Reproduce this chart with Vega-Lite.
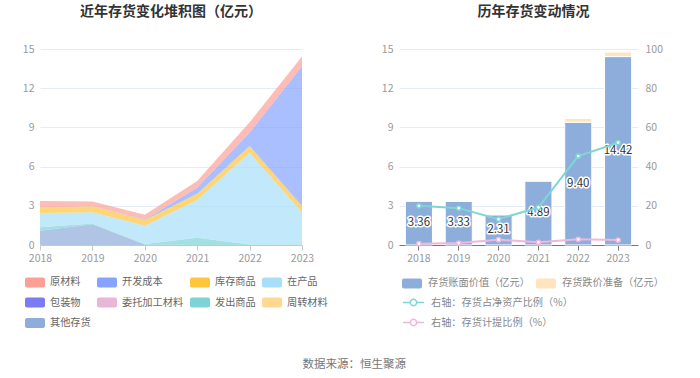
{
  "$schema": "https://vega.github.io/schema/vega-lite/v6.json",
  "background": "white",
  "padding": {"left": 22, "top": 5, "right": 5, "bottom": 6},
  "config": {
    "font": "Noto Sans CJK SC",
    "view": {"stroke": null},
    "axis": {"labelFont": "Noto Sans CJK SC", "labelFontSize": 10.5, "labelColor": "#9a9a9a", "gridColor": "#E6ECF6", "domainColor": "#C8C8C8", "tickColor": "#C8C8C8"},
    "legend": {"labelFont": "Noto Sans CJK SC", "labelFontSize": 10.2, "labelColor": "#666666", "padding": 0}
  },
  "title": {"text": "数据来源：恒生聚源", "orient": "bottom", "anchor": "middle", "fontSize": 11.5, "fontWeight": "normal", "color": "#777777", "dx": 11, "offset": 30},
  "bounds": "flush",
  "spacing": 97,
  "datasets": {
    "stack": [
      {"year": "2018", "cat": "其他存货", "value": 1.09, "seq": 1},
      {"year": "2018", "cat": "发出商品", "value": 0.26, "seq": 2},
      {"year": "2018", "cat": "在产品", "value": 1.09, "seq": 3},
      {"year": "2018", "cat": "库存商品", "value": 0.41, "seq": 4},
      {"year": "2018", "cat": "开发成本", "value": 0.0, "seq": 5},
      {"year": "2018", "cat": "原材料", "value": 0.51, "seq": 6},
      {"year": "2019", "cat": "其他存货", "value": 1.58, "seq": 1},
      {"year": "2019", "cat": "发出商品", "value": 0.07, "seq": 2},
      {"year": "2019", "cat": "在产品", "value": 0.85, "seq": 3},
      {"year": "2019", "cat": "库存商品", "value": 0.46, "seq": 4},
      {"year": "2019", "cat": "开发成本", "value": 0.0, "seq": 5},
      {"year": "2019", "cat": "原材料", "value": 0.37, "seq": 6},
      {"year": "2020", "cat": "其他存货", "value": 0.04, "seq": 1},
      {"year": "2020", "cat": "发出商品", "value": 0.03, "seq": 2},
      {"year": "2020", "cat": "在产品", "value": 1.4, "seq": 3},
      {"year": "2020", "cat": "库存商品", "value": 0.44, "seq": 4},
      {"year": "2020", "cat": "开发成本", "value": 0.05, "seq": 5},
      {"year": "2020", "cat": "原材料", "value": 0.35, "seq": 6},
      {"year": "2021", "cat": "其他存货", "value": 0.0, "seq": 1},
      {"year": "2021", "cat": "发出商品", "value": 0.56, "seq": 2},
      {"year": "2021", "cat": "在产品", "value": 2.88, "seq": 3},
      {"year": "2021", "cat": "库存商品", "value": 0.48, "seq": 4},
      {"year": "2021", "cat": "开发成本", "value": 0.46, "seq": 5},
      {"year": "2021", "cat": "原材料", "value": 0.51, "seq": 6},
      {"year": "2022", "cat": "其他存货", "value": 0.0, "seq": 1},
      {"year": "2022", "cat": "发出商品", "value": 0.04, "seq": 2},
      {"year": "2022", "cat": "在产品", "value": 7.02, "seq": 3},
      {"year": "2022", "cat": "库存商品", "value": 0.52, "seq": 4},
      {"year": "2022", "cat": "开发成本", "value": 1.03, "seq": 5},
      {"year": "2022", "cat": "原材料", "value": 0.79, "seq": 6},
      {"year": "2023", "cat": "其他存货", "value": 0.0, "seq": 1},
      {"year": "2023", "cat": "发出商品", "value": 0.04, "seq": 2},
      {"year": "2023", "cat": "在产品", "value": 2.44, "seq": 3},
      {"year": "2023", "cat": "库存商品", "value": 0.5, "seq": 4},
      {"year": "2023", "cat": "开发成本", "value": 10.7, "seq": 5},
      {"year": "2023", "cat": "原材料", "value": 0.74, "seq": 6}
    ],
    "bars": [
      {"year": "2018", "type": "存货账面价值（亿元）", "value": 3.36},
      {"year": "2018", "type": "存货跌价准备（亿元）", "value": 0.02},
      {"year": "2019", "type": "存货账面价值（亿元）", "value": 3.33},
      {"year": "2019", "type": "存货跌价准备（亿元）", "value": 0.03},
      {"year": "2020", "type": "存货账面价值（亿元）", "value": 2.31},
      {"year": "2020", "type": "存货跌价准备（亿元）", "value": 0.05},
      {"year": "2021", "type": "存货账面价值（亿元）", "value": 4.89},
      {"year": "2021", "type": "存货跌价准备（亿元）", "value": 0.07},
      {"year": "2022", "type": "存货账面价值（亿元）", "value": 9.4},
      {"year": "2022", "type": "存货跌价准备（亿元）", "value": 0.29},
      {"year": "2023", "type": "存货账面价值（亿元）", "value": 14.42},
      {"year": "2023", "type": "存货跌价准备（亿元）", "value": 0.35}
    ],
    "lines": [
      {"year": "2018", "metric": "右轴：存货占净资产比例（%）", "ratio": 20.0},
      {"year": "2019", "metric": "右轴：存货占净资产比例（%）", "ratio": 18.8},
      {"year": "2020", "metric": "右轴：存货占净资产比例（%）", "ratio": 13.2},
      {"year": "2021", "metric": "右轴：存货占净资产比例（%）", "ratio": 19.2},
      {"year": "2022", "metric": "右轴：存货占净资产比例（%）", "ratio": 45.4},
      {"year": "2023", "metric": "右轴：存货占净资产比例（%）", "ratio": 52.2},
      {"year": "2018", "metric": "右轴：存货计提比例（%）", "ratio": 0.7},
      {"year": "2019", "metric": "右轴：存货计提比例（%）", "ratio": 1.0},
      {"year": "2020", "metric": "右轴：存货计提比例（%）", "ratio": 2.7},
      {"year": "2021", "metric": "右轴：存货计提比例（%）", "ratio": 1.4},
      {"year": "2022", "metric": "右轴：存货计提比例（%）", "ratio": 2.9},
      {"year": "2023", "metric": "右轴：存货计提比例（%）", "ratio": 2.5}
    ]
  },
  "resolve": {
    "scale": {"x": "independent", "y": "independent", "color": "independent", "fill": "independent", "stroke": "independent"},
    "legend": {"color": "independent", "fill": "independent", "stroke": "independent"}
  },
  "hconcat": [
    {
      "width": 262,
      "height": 196,
      "title": {"text": "近年存货变化堆积图（亿元）", "fontSize": 14, "fontWeight": "bold", "color": "#333333", "offset": 25, "dx": 0, "anchor": "middle"},
      "data": {"name": "stack"},
      "mark": {"type": "area", "fillOpacity": 0.7, "interpolate": "linear"},
      "encoding": {
        "x": {"field": "year", "type": "ordinal", "scale": {"type": "point", "padding": 0},
              "axis": {"title": null, "labelAngle": 0, "ticks": true, "tickSize": 5, "labelPadding": 3}},
        "y": {"field": "value", "type": "quantitative", "stack": "zero", "scale": {"domain": [0, 15], "nice": false},
              "axis": {"title": null, "values": [0, 3, 6, 9, 12, 15], "domain": false, "ticks": false, "labelPadding": 6, "grid": true}},
        "color": {"field": "cat", "type": "nominal",
                  "scale": {"domain": ["原材料", "开发成本", "库存商品", "在产品", "包装物", "委托加工材料", "发出商品", "周转材料", "其他存货"],
                            "range": ["#FC9F95", "#86A4FF", "#FFC53D", "#A7DEFA", "#7B7BF3", "#E8B7D8", "#7ED3D6", "#FFD991", "#8EADDB"]},
                  "legend": {"title": null, "orient": "none", "direction": "horizontal", "legendX": -15, "legendY": 223, "columns": 4,
                             "symbolType": "M-0.8,-0.5H0.8A0.2,0.2,0,0,1,1,-0.3V0.3A0.2,0.2,0,0,1,0.8,0.5H-0.8A0.2,0.2,0,0,1,-1,0.3V-0.3A0.2,0.2,0,0,1,-0.8,-0.5Z",
                             "symbolSize": 400, "symbolStrokeWidth": 0, "symbolOpacity": 1, "labelOffset": 5, "columnPadding": 6, "rowPadding": 4.5}},
        "order": {"field": "seq", "type": "quantitative", "sort": "ascending"}
      }
    },
    {
      "width": 239,
      "height": 196,
      "title": {"text": "历年存货变动情况", "fontSize": 14, "fontWeight": "bold", "color": "#333333", "offset": 25, "dx": 15, "anchor": "middle"},
      "layer": [
        {
          "layer": [
            {
              "data": {"name": "bars"},
              "mark": {"type": "bar", "stroke": "white", "strokeWidth": 1},
              "encoding": {
                "x": {"field": "year", "type": "ordinal", "scale": {"type": "band", "paddingInner": 0.32, "paddingOuter": 0.16},
                      "axis": {"title": null, "labelAngle": 0, "ticks": true, "tickSize": 5, "labelPadding": 3, "domainColor": "#777777", "tickColor": "#777777"}},
                "y": {"field": "value", "type": "quantitative", "stack": "zero", "scale": {"domain": [0, 15], "nice": false},
                      "axis": {"title": null, "values": [0, 3, 6, 9, 12, 15], "domain": false, "ticks": false, "labelPadding": 6, "grid": true}},
                "fill": {"field": "type", "type": "nominal",
                         "scale": {"domain": ["存货账面价值（亿元）", "存货跌价准备（亿元）"], "range": ["#8DADDB", "#FFE4BD"]},
                         "legend": {"title": null, "orient": "none", "direction": "horizontal", "legendX": 3, "legendY": 224, "columns": 2,
                                    "symbolType": "M-0.8,-0.5H0.8A0.2,0.2,0,0,1,1,-0.3V0.3A0.2,0.2,0,0,1,0.8,0.5H-0.8A0.2,0.2,0,0,1,-1,0.3V-0.3A0.2,0.2,0,0,1,-0.8,-0.5Z",
                                    "symbolSize": 400, "symbolStrokeWidth": 0, "symbolOpacity": 1, "labelOffset": 6, "columnPadding": 6, "labelColor": "#888888"}},
                "order": {"field": "type", "sort": "ascending"}
              }
            },
            {
              "data": {"name": "bars"},
              "transform": [{"filter": "datum.type === '存货账面价值（亿元）'"}, {"calculate": "datum.value / 2", "as": "mid"}],
              "mark": {"type": "text", "fontSize": 11.5, "stroke": "white", "strokeWidth": 3, "strokeJoin": "round", "fill": "white"},
              "encoding": {
                "x": {"field": "year", "type": "ordinal"},
                "y": {"field": "mid", "type": "quantitative", "scale": {"domain": [0, 15], "nice": false},
                      "axis": {"title": null, "values": [0, 3, 6, 9, 12, 15], "domain": false, "ticks": false, "labelPadding": 6, "grid": true}},
                "text": {"field": "value", "type": "quantitative", "format": ".2f"}
              }
            },
            {
              "data": {"name": "bars"},
              "transform": [{"filter": "datum.type === '存货账面价值（亿元）'"}, {"calculate": "datum.value / 2", "as": "mid"}],
              "mark": {"type": "text", "fontSize": 11.5, "fill": "#333333"},
              "encoding": {
                "x": {"field": "year", "type": "ordinal"},
                "y": {"field": "mid", "type": "quantitative", "scale": {"domain": [0, 15], "nice": false},
                      "axis": {"title": null, "values": [0, 3, 6, 9, 12, 15], "domain": false, "ticks": false, "labelPadding": 6, "grid": true}},
                "text": {"field": "value", "type": "quantitative", "format": ".2f"}
              }
            }
          ]
        },
        {
          "data": {"name": "lines"},
          "mark": {"type": "line", "strokeWidth": 2, "point": {"filled": false, "fill": "white", "size": 18, "strokeWidth": 1.5}},
          "encoding": {
            "x": {"field": "year", "type": "ordinal"},
            "y": {"field": "ratio", "type": "quantitative", "scale": {"domain": [0, 100], "nice": false},
                  "axis": {"title": null, "orient": "right", "values": [0, 20, 40, 60, 80, 100], "domain": false, "ticks": false, "labelPadding": 7, "grid": false}},
            "stroke": {"field": "metric", "type": "nominal",
                       "scale": {"domain": ["右轴：存货占净资产比例（%）", "右轴：存货计提比例（%）"], "range": ["#7ED6D3", "#F0B6DB"]},
                       "legend": {"title": null, "orient": "none", "legendX": 3, "legendY": 242, "columns": 1,
                                  "symbolType": "M-1,0H-0.3M0.3,0H1M-0.3,0A0.3,0.3,0,1,1,0.3,0A0.3,0.3,0,1,1,-0.3,0",
                                  "symbolSize": 441, "symbolStrokeWidth": 1.5, "symbolFillColor": "white", "labelOffset": 6, "rowPadding": 2, "labelColor": "#888888"}}
          }
        }
      ],
      "resolve": {"scale": {"y": "independent"}}
    }
  ]
}
